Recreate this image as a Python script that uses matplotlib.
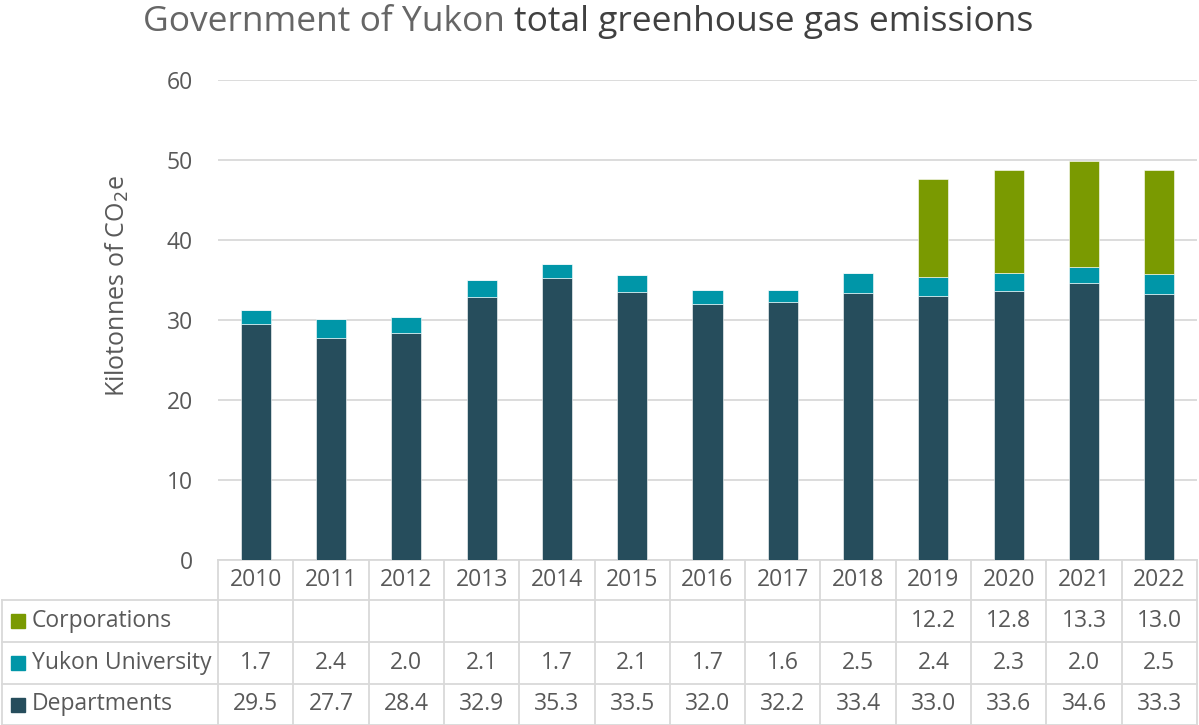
import numpy as np
import matplotlib.pyplot as plt
from matplotlib.transforms import blended_transform_factory

plt.rcParams['font.family'] = ['Open Sans', 'DejaVu Sans']

years = ['2010', '2011', '2012', '2013', '2014', '2015', '2016', '2017', '2018',
         '2019', '2020', '2021', '2022']
departments = [29.5, 27.7, 28.4, 32.9, 35.3, 33.5, 32.0, 32.2, 33.4, 33.0, 33.6, 34.6, 33.3]
university = [1.7, 2.4, 2.0, 2.1, 1.7, 2.1, 1.7, 1.6, 2.5, 2.4, 2.3, 2.0, 2.5]
corporations = [None, None, None, None, None, None, None, None, None, 12.2, 12.8, 13.3, 13.0]

c_dep = '#264d5c'
c_uni = '#0096a8'
c_corp = '#7a9a01'
grid_c = '#d9d9d9'
txt_c = '#595959'
fs = 16.5

W, H = 1199, 725
fig = plt.figure(figsize=(W / 100, H / 100), dpi=100)
ax = fig.add_axes([218 / W, 1 - 560 / H, (1197 - 218) / W, 480 / H])

x = np.arange(len(years))
dep = np.array(departments)
uni = np.array(university)
corp = np.array([v if v is not None else 0 for v in corporations])
w = 0.4
ax.bar(x, dep, w, color=c_dep, edgecolor='white', linewidth=0.4, zorder=3)
ax.bar(x, uni, w, bottom=dep, color=c_uni, edgecolor='white', linewidth=0.4, zorder=3)
ax.bar(x, corp, w, bottom=dep + uni, color=c_corp, edgecolor='white', linewidth=0.4, zorder=3)

ax.set_xlim(-0.5, len(years) - 0.5)
ax.set_ylim(0, 60)
ax.set_yticks(range(0, 61, 10))
ax.yaxis.grid(True, color=grid_c, linewidth=1.3)
ax.set_axisbelow(True)
for s in ax.spines.values():
    s.set_visible(False)
ax.tick_params(axis='y', length=0, labelsize=fs, labelcolor=txt_c, pad=18)
ax.set_xticks([])
ax.set_ylabel('Kilotonnes of CO$_2$e', fontsize=18, color=txt_c)
ax.yaxis.set_label_coords(-0.089, 0.57)

t1 = fig.text(143 / W, 1 - 22 / H, 'Government of Yukon ', ha='left', va='center',
              fontsize=25.5, color='#666666')
fig.canvas.draw()
bb = t1.get_window_extent()
fig.text(bb.x1 / W, 1 - 22 / H, 'total greenhouse gas emissions', ha='left',
         va='center', fontsize=25.5, color='#404040')

# data table under the chart
tr = blended_transform_factory(ax.transData, fig.transFigure)
fy = lambda px: 1 - px / H
rows_y = [560, 600, 642, 684, 725]
lw = 1.3
ax.plot([-0.5, len(years) - 0.5], [fy(560)] * 2, transform=tr, color=grid_c, lw=lw, clip_on=False)
for py in rows_y[1:]:
    fig.lines.append(plt.Line2D([2 / W, 1197 / W], [fy(py)] * 2, transform=fig.transFigure,
                                color=grid_c, lw=lw))
for b in np.arange(len(years) + 1) - 0.5:
    ax.plot([b, b], [fy(560), fy(725)], transform=tr, color=grid_c, lw=lw, clip_on=False)
fig.lines.append(plt.Line2D([2 / W, 2 / W], [fy(600), fy(725)], transform=fig.transFigure,
                            color=grid_c, lw=lw))

for i, yr in enumerate(years):
    ax.text(i, fy(580), yr, transform=tr, ha='center', va='center', fontsize=fs, color=txt_c)

series = [('Corporations', corporations, c_corp),
          ('Yukon University', university, c_uni),
          ('Departments', departments, c_dep)]
for r, (name, vals, col) in enumerate(series):
    yc = fy(0.5 * (rows_y[r + 1] + rows_y[r + 2]))
    fig.patches.append(plt.Rectangle((11 / W, yc - 7 / H), 14 / W, 14 / H,
                                     transform=fig.transFigure, color=col))
    fig.text(32 / W, yc, name, ha='left', va='center', fontsize=fs, color=txt_c)
    for i, v in enumerate(vals):
        if v is not None:
            ax.text(i, yc, f'{v:.1f}', transform=tr, ha='center', va='center',
                    fontsize=fs, color=txt_c)

fig.savefig('out.png', dpi=100)
